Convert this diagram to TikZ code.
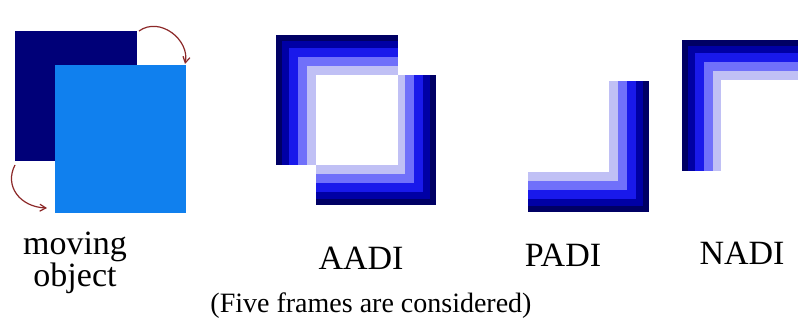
\documentclass[tikz,border=0pt]{standalone}
\usepackage{fontspec}
\setmainfont{Liberation Serif}
\usetikzlibrary{arrows.meta}

\definecolor{navyobj}{RGB}{0,0,120}
\definecolor{skyobj}{RGB}{16,128,238}
\definecolor{bandA}{RGB}{0,0,100}
\definecolor{bandB}{RGB}{0,0,165}
\definecolor{bandC}{RGB}{25,25,235}
\definecolor{bandD}{RGB}{112,112,250}
\definecolor{bandE}{RGB}{192,192,245}
\definecolor{arrowred}{RGB}{140,40,40}

\begin{document}
\begin{tikzpicture}[
            x=1pt, y=-1pt,
            lbl/.style={anchor=base, inner sep=0pt, font=\fontsize{34}{32}\selectfont},
            note/.style={anchor=base, inner sep=0pt, font=\fontsize{28}{30}\selectfont},
            move/.style={->, arrowred, line width=1.2pt, >={Straight Barb[length=6pt,width=7pt]}}
        ]
            % --- Canvas ---
            \fill[white] (0,0) rectangle (798,320);
            \useasboundingbox (0,0) rectangle (798,320);

            % --- Moving object ---
            \fill[navyobj] (15,31) rectangle (137,161);
            \fill[skyobj] (55,65) rectangle (186,213);
            \coordinate (topstart) at (139,31);
            \coordinate (topend) at (185,64);
            \coordinate (botstart) at (15,165);
            \coordinate (botend) at (47,208);
            \draw[move] (topstart) .. controls (160,16) and (190,40) .. (topend);
            \draw[move] (botstart) .. controls (4,186) and (20,207) .. (botend);

            % --- AADI ---
            \fill[bandA] (276,35) rectangle (398,165);
            \fill[bandB] (282,41) rectangle (398,165);
            \fill[bandC] (289,48) rectangle (398,165);
            \fill[bandD] (298,57) rectangle (398,165);
            \fill[bandE] (307,66) rectangle (398,165);
            \fill[bandA] (316,75) rectangle (436,205);
            \fill[bandB] (316,75) rectangle (430,199);
            \fill[bandC] (316,75) rectangle (423,192);
            \fill[bandD] (316,75) rectangle (414,183);
            \fill[bandE] (316,75) rectangle (405,174);
            \fill[white] (316,75) rectangle (398,165);

            % --- PADI ---
            \fill[bandA] (528,81) rectangle (649,212);
            \fill[bandB] (528,81) rectangle (643,206);
            \fill[bandC] (528,81) rectangle (636,199);
            \fill[bandD] (528,81) rectangle (627,190);
            \fill[bandE] (528,81) rectangle (618,181);
            \fill[white] (528,81) rectangle (609,172);

            % --- NADI ---
            \fill[bandA] (682,40) rectangle (798,171);
            \fill[bandB] (688,46) rectangle (798,171);
            \fill[bandC] (695,53) rectangle (798,171);
            \fill[bandD] (704,62) rectangle (798,171);
            \fill[bandE] (713,71) rectangle (798,171);
            \fill[white] (721,80) rectangle (798,171);

            % --- Labels ---
            \node[lbl] (moving) at (75,255) {moving};
            \node[lbl] (object) at (75,287) {object};
            \node[lbl] (aadi) at (361,270) {AADI};
            \node[lbl] (padi) at (563,267) {PADI};
            \node[lbl] (nadi) at (742,265) {NADI};
            \node[note] (frames) at (371,313) {(Five frames are considered)};

        \end{tikzpicture}
\end{document}
